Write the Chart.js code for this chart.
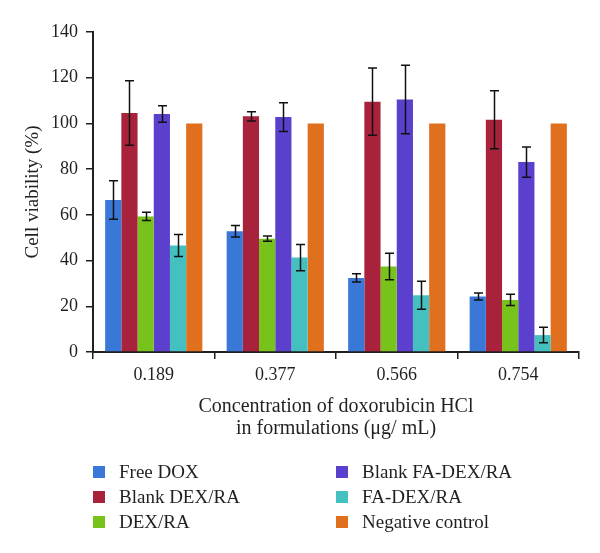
<!DOCTYPE html>
<html>
<head>
<meta charset="utf-8">
<script src="https://cdn.jsdelivr.net/npm/chart.js@4"></script>
<style>
	body { margin: 0; background: #fff; }
	#wrap { position: relative; width: 600px; height: 553px; }
	#legend {
		position: absolute; left: 93px; top: 459px;
		display: grid; grid-auto-flow: column;
		grid-template-rows: repeat(3, 25px); grid-template-columns: 243px 243px;
		font-family: "Liberation Serif", "DejaVu Serif", serif; font-size: 19px; color: #231f20;
	}
	#legend div { display: flex; align-items: center; }
	#legend span.box { width: 12px; height: 12px; margin-right: 14px; }
</style>
</head>
<body>
<div id="wrap">
	<canvas id="mycanvas" width="600" height="553"></canvas>
	<div id="legend"></div>
</div>
<script>
var concentrations = ['0.189', '0.377', '0.566', '0.754'];

var freeDox = [66.5, 52.8, 32.4, 24.3];
var freeDoxErr = [8.4, 2.5, 1.8, 1.5];
var blankDexRa = [104.6, 103.1, 109.5, 101.6];
var blankDexRaErr = [14.1, 2.0, 14.7, 12.7];
var dexRa = [59.3, 49.6, 37.4, 22.8];
var dexRaErr = [1.8, 1.2, 5.8, 2.5];
var blankFaDexRa = [104.1, 102.8, 110.5, 83.1];
var blankFaDexRaErr = [3.6, 6.3, 15.0, 6.6];
var faDexRa = [46.6, 41.3, 24.8, 7.4];
var faDexRaErr = [4.8, 5.7, 6.1, 3.4];
var negControl = [100, 100, 100, 100];

var yTicks = [0, 20, 40, 60, 80, 100, 120, 140];

var serif = '"Liberation Serif", "DejaVu Serif", serif';
var ink = '#231f20';

// error bars drawn from each bar's own position and the y scale
var errorBars = {
	id: 'errorBars',
	afterDatasetsDraw: function(chart) {
		var ctx = chart.ctx;
		var yScale = chart.scales.y;
		ctx.save();
		ctx.strokeStyle = '#111';
		ctx.lineWidth = 1.5;
		chart.data.datasets.forEach(function(ds, i) {
			if (!ds.errors) return;
			var meta = chart.getDatasetMeta(i);
			meta.data.forEach(function(bar, j) {
				var v = ds.data[j], e = ds.errors[j];
				var top = yScale.getPixelForValue(v + e);
				var bot = yScale.getPixelForValue(v - e);
				var x = Math.round(bar.x) + 0.5;
				ctx.beginPath();
				ctx.moveTo(x, top); ctx.lineTo(x, bot);
				ctx.moveTo(x - 4.5, top); ctx.lineTo(x + 4.5, top);
				ctx.moveTo(x - 4.5, bot); ctx.lineTo(x + 4.5, bot);
				ctx.stroke();
			});
		});
		ctx.restore();
	}
};

var chartdata = {
	labels: concentrations,
	datasets: [
		{ label: 'Free DOX', backgroundColor: '#3a78d8', data: freeDox, errors: freeDoxErr },
		{ label: 'Blank DEX/RA', backgroundColor: '#a8223c', data: blankDexRa, errors: blankDexRaErr },
		{ label: 'DEX/RA', backgroundColor: '#78c21c', data: dexRa, errors: dexRaErr },
		{ label: 'Blank FA-DEX/RA', backgroundColor: '#5a40cc', data: blankFaDexRa, errors: blankFaDexRaErr },
		{ label: 'FA-DEX/RA', backgroundColor: '#45c0c0', data: faDexRa, errors: faDexRaErr },
		{ label: 'Negative control', backgroundColor: '#e0701e', data: negControl }
	]
};

var ctx = document.getElementById('mycanvas');

var barGraph = new Chart(ctx, {
	type: 'bar',
	data: chartdata,
	plugins: [errorBars],
	options: {
		responsive: false,
		animation: false,
		layout: { padding: { left: 0, right: 21, top: 32, bottom: 105 } },
		datasets: { bar: { categoryPercentage: 0.8, barPercentage: 1.0 } },
		plugins: {
			legend: { display: false },
			tooltip: { enabled: false }
		},
		scales: {
			x: {
				afterFit: function(scale) { scale.height = 96; },
				grid: { drawOnChartArea: false, color: ink, lineWidth: 1.5, tickLength: 7, offset: true },
				border: { color: ink, width: 2 },
				ticks: { color: ink, padding: 5, font: { family: serif, size: 18 } },
				title: {
					display: true,
					text: ['Concentration of doxorubicin HCl', 'in formulations (\u03bcg/ mL)'],
					color: ink,
					font: { family: serif, size: 20, lineHeight: 1.1 },
					padding: { top: 0, bottom: 8 }
				}
			},
			y: {
				min: 0,
				max: 140,
				afterFit: function(scale) { scale.width = 93; },
				afterBuildTicks: function(scale) {
					scale.ticks = yTicks.map(function(v) { return { value: v }; });
				},
				grid: { drawOnChartArea: false, color: ink, lineWidth: 1.5, tickLength: 7 },
				border: { color: ink, width: 2 },
				ticks: { color: ink, padding: 8, font: { family: serif, size: 18 } },
				title: {
					display: true,
					text: 'Cell viability (%)',
					color: ink,
					font: { family: serif, size: 19, lineHeight: 1.22 },
					padding: { top: 21, bottom: 0 }
				}
			}
		}
	}
});

// legend in two columns, built from the datasets
var legend = document.getElementById('legend');
chartdata.datasets.forEach(function(ds) {
	var item = document.createElement('div');
	var box = document.createElement('span');
	box.className = 'box';
	box.style.background = ds.backgroundColor;
	item.appendChild(box);
	item.appendChild(document.createTextNode(ds.label));
	legend.appendChild(item);
});
</script>
</body>
</html>
